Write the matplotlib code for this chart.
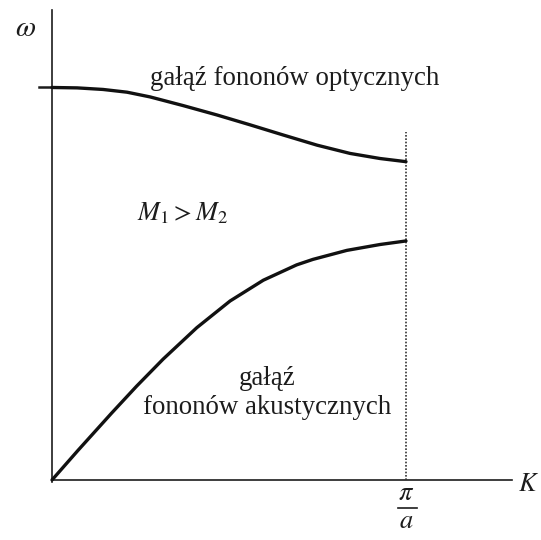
import numpy as np
import matplotlib
matplotlib.use("Agg")
import matplotlib.pyplot as plt

plt.rcParams['font.family'] = ['Liberation Serif', 'DejaVu Serif']
plt.rcParams['mathtext.fontset'] = 'stix'

# wave vector in units of pi/a, frequency normalised to optical maximum
k_acoustic = [0.0, 0.074, 0.168, 0.239, 0.314, 0.409, 0.503, 0.597, 0.691, 0.737, 0.833, 0.927, 1.0]
w_acoustic = [0.0, 0.076, 0.170, 0.239, 0.308, 0.388, 0.456, 0.509, 0.548, 0.562, 0.585, 0.600, 0.609]

k_optical = [0.0, 0.071, 0.144, 0.212, 0.277, 0.370, 0.466, 0.559, 0.653, 0.749, 0.842, 0.927, 1.0]
w_optical = [1.0, 0.999, 0.995, 0.988, 0.976, 0.954, 0.930, 0.905, 0.879, 0.853, 0.832, 0.819, 0.811]

fig = plt.figure(figsize=(5.41, 5.40), dpi=100)
ax = fig.add_axes([0, 0, 1, 1])
ax.set_xlim(-0.1469, 1.3814)
ax.set_ylim(-0.1529, 1.2229)
ax.axis('off')

ink = '#1c1c1c'

# axes
ax.plot([0, 0], [-0.005, 1.197], color=ink, lw=1.2)
ax.plot([0, 1.299], [0, 0], color=ink, lw=1.2)
ax.plot([-0.036, 0], [1.0, 1.0], color=ink, lw=1.8)

# zone boundary K = pi/a
ax.plot([1.0, 1.0], [0, 0.887], color='#333333', lw=1.2, ls=(0, (1, 1)))

# dispersion branches
ax.plot(k_acoustic, w_acoustic, color='#111111', lw=2.4,
        solid_capstyle='round', solid_joinstyle='round')
ax.plot(k_optical, w_optical, color='#111111', lw=2.4,
        solid_capstyle='round', solid_joinstyle='round')

txt = dict(color=ink, ha='center', va='center')
ax.text(-0.075, 1.149, r'$\omega$', fontsize=21, **txt)
ax.text(1.345, -0.013, r'$K$', fontsize=19, **txt)
ax.text(1.0, -0.036, r'$\pi$', fontsize=19, **txt)
ax.plot([0.977, 1.031], [-0.0713, -0.0713], color=ink, lw=1.2)
ax.text(1.0, -0.108, r'$a$', fontsize=19, **txt)

ax.text(0.686, 1.024, 'gałąź fononów optycznych', fontsize=19.4, **txt)
ax.text(0.37, 0.680, r'$M_1 > M_2$', fontsize=19, **txt)
ax.text(0.607, 0.258, 'gałąź', fontsize=19.4, **txt)
ax.text(0.607, 0.184, 'fononów akustycznych', fontsize=19.4, **txt)

fig.savefig('out.png', dpi=100)
